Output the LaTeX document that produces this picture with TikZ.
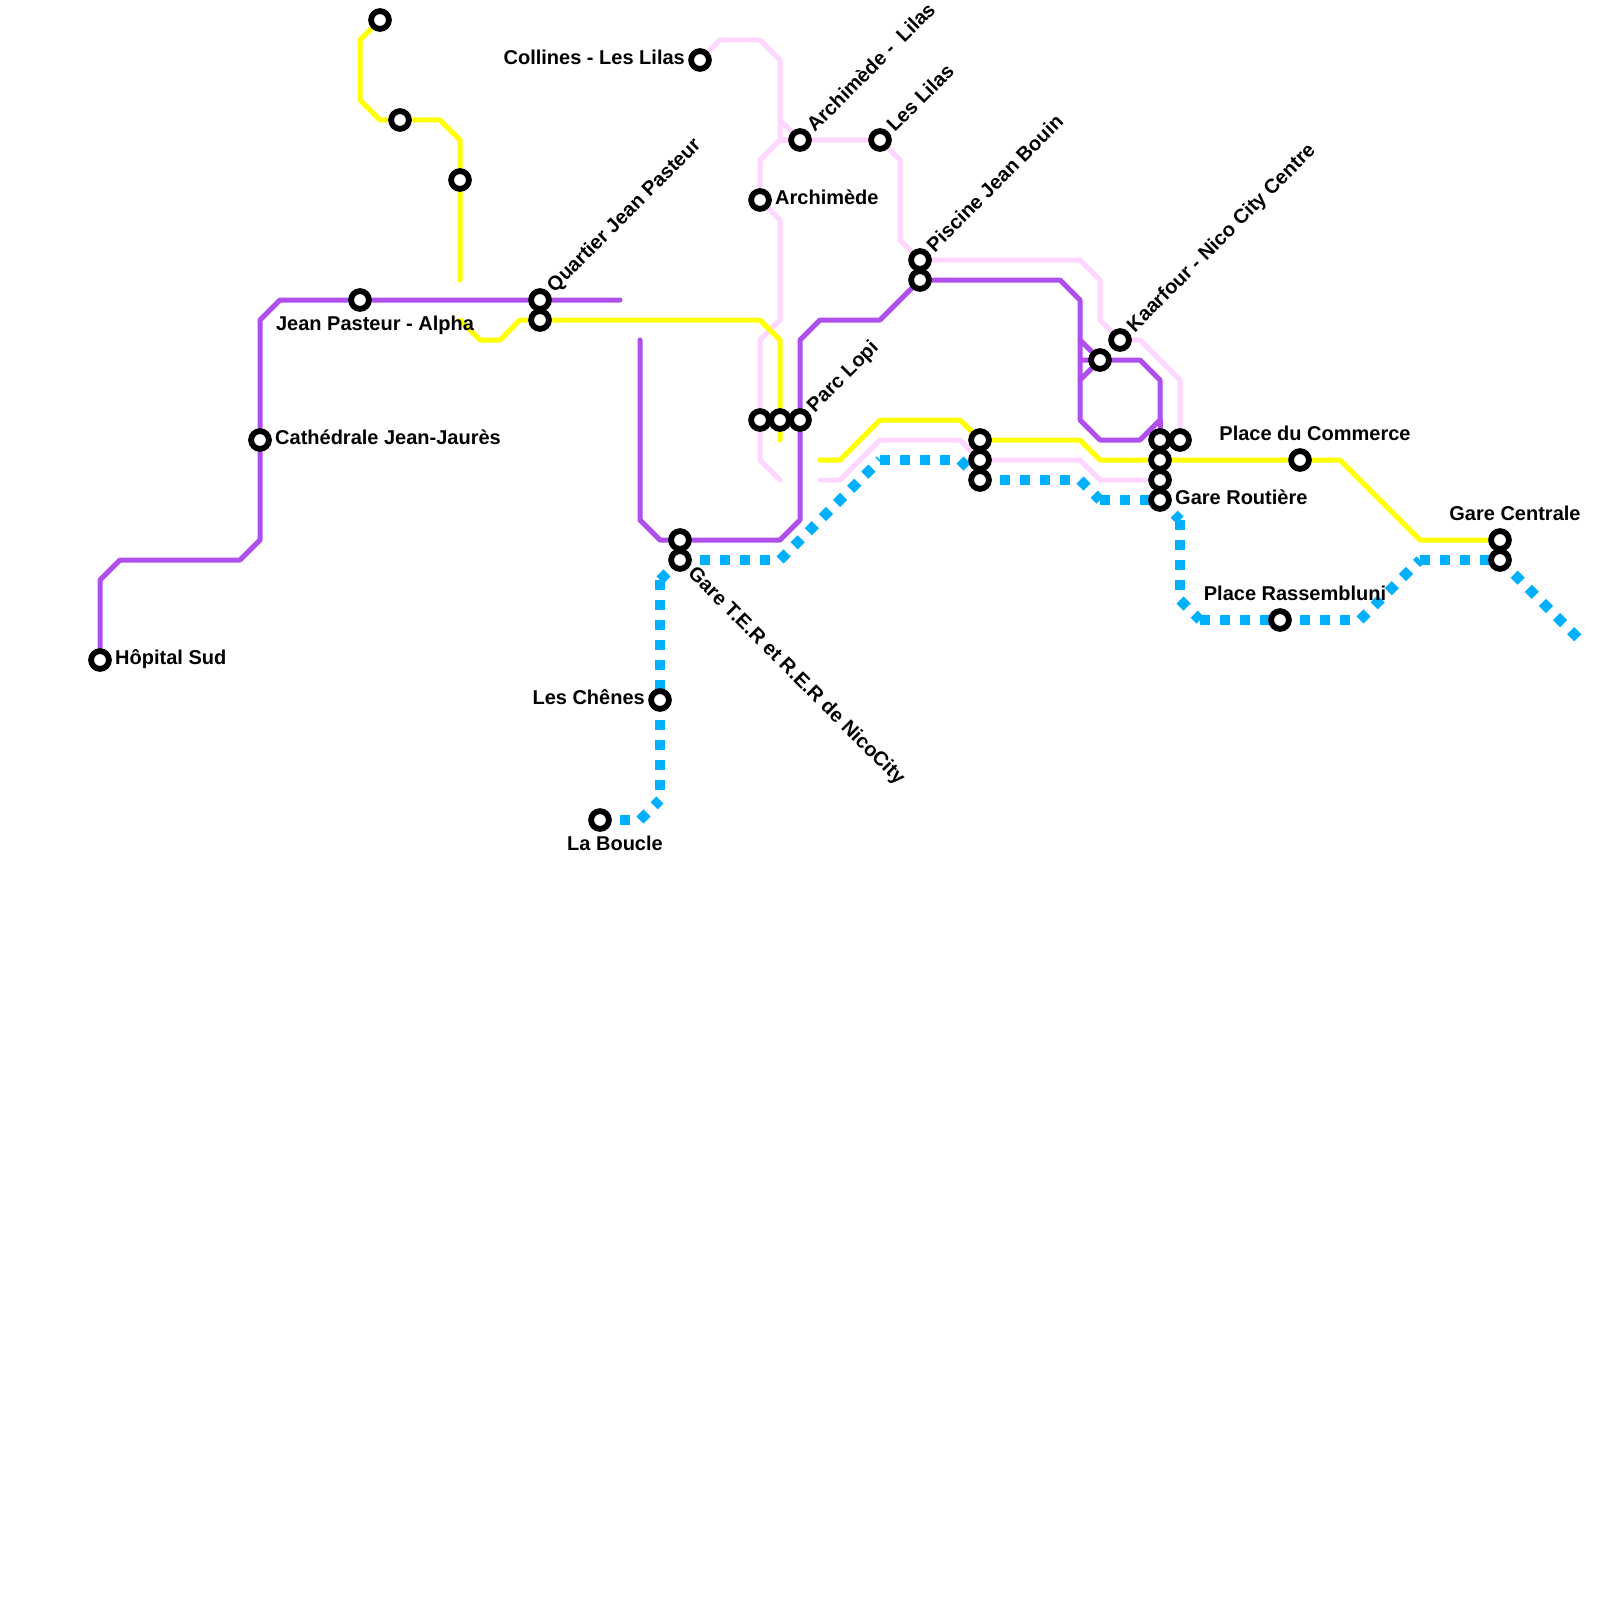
\documentclass[tikz,border=0pt]{standalone}
\usepackage{fontspec}
\setmainfont{Liberation Sans}
\usetikzlibrary{backgrounds, positioning}
\definecolor{metroviolet}{HTML}{AE4FEE}
\definecolor{metrorose}{HTML}{FFD6FF}
\definecolor{metrojaune}{HTML}{FFFF00}
\definecolor{metrobleu}{HTML}{00B0FF}

\begin{document}
\begin{tikzpicture}[
		x=0.5pt, y=-0.5pt,
		node distance=1.5pt,
		station/.style={draw=black, circle, fill=white, line width=2.9pt, minimum size=8.9pt, inner sep=0pt},
		lbl/.style={font=\bfseries\fontsize{10}{12}\selectfont, text height=7.5pt, text depth=2pt, inner sep=0pt},
		lblup/.style={lbl, rotate=45, anchor=west, xshift=7.5pt},
		lbldown/.style={lbl, rotate=-45, anchor=west, xshift=7.5pt},
		ligne/.style={line width=2.5pt, line cap=round, line join=round},
		pointille/.style={metrobleu, line width=5pt, dash pattern=on 5pt off 5pt}
		]
		\useasboundingbox (0,0) rectangle (1600,1600);
		
		% Stations
		\node[station] (sud) at (100,660) {};
		\node[station] (jaures) at (260,440) {};
		\node[station] (alpha) at (360,300) {};
		\node[station] (jauneA) at (380,20) {};
		\node[station] (jauneB) at (400,120) {};
		\node[station] (jauneC) at (460,180) {};
		\node[station] (pasteur) at (540,300) {};
		\node[station] (pasteurB) at (540,320) {};
		\node[station] (collines) at (700,60) {};
		\node[station] (archlilas) at (800,140) {};
		\node[station] (lilas) at (880,140) {};
		\node[station] (archimede) at (760,200) {};
		\node[station] (piscine) at (920,260) {};
		\node[station] (piscineB) at (920,280) {};
		\node[station] (kaarfour) at (1120,340) {};
		\node[station] (kaarfourB) at (1100,360) {};
		\node[station] (lopiA) at (760,420) {};
		\node[station] (lopiB) at (780,420) {};
		\node[station] (lopi) at (800,420) {};
		\node[station] (terA) at (680,540) {};
		\node[station] (ter) at (680,560) {};
		\node[station] (chenes) at (660,700) {};
		\node[station] (boucle) at (600,820) {};
		\node[station] (milieuA) at (980,440) {};
		\node[station] (milieuB) at (980,460) {};
		\node[station] (milieuC) at (980,480) {};
		\node[station] (routiereA) at (1160,440) {};
		\node[station] (routiereB) at (1160,460) {};
		\node[station] (routiereC) at (1160,480) {};
		\node[station] (routiere) at (1160,500) {};
		\node[station] (routiereD) at (1180,440) {};
		\node[station] (commerce) at (1300,460) {};
		\node[station] (centrale) at (1500,540) {};
		\node[station] (centraleB) at (1500,560) {};
		\node[station] (rassembluni) at (1280,620) {};
		
		% Labels
		\node[lbl, right=of sud, yshift=0.3pt] (sudlbl) {Hôpital Sud};
		\node[lbl, right=of jaures, yshift=0.3pt] (jaureslbl) {Cathédrale Jean-Jaurès};
		\node[lbl, below=of alpha, xshift=7.5pt] (alphalbl) {Jean Pasteur - Alpha};
		\node[lbl, left=of collines, yshift=0.3pt] (collineslbl) {Collines - Les Lilas};
		\node[lbl, right=of archimede, yshift=0.3pt] (archimedelbl) {Archimède};
		\node[lbl, left=of chenes, yshift=0.3pt] (cheneslbl) {Les Chênes};
		\node[lbl, below=of boucle, xshift=7.5pt] (bouclelbl) {La Boucle};
		\node[lbl, right=of routiere, yshift=0.3pt] (routierelbl) {Gare Routière};
		\node[lbl, above=of commerce, xshift=7.5pt, yshift=0.3pt] (commercelbl) {Place du Commerce};
		\node[lbl, above=of centrale, xshift=7.5pt, yshift=0.3pt] (centralelbl) {Gare Centrale};
		\node[lbl, above=of rassembluni, xshift=7.5pt, yshift=0.3pt] (rassemblunilbl) {Place Rassembluni};
		\node[lblup] (pasteurlbl) at (pasteur) {Quartier Jean Pasteur};
		\node[lblup] (archlilaslbl) at (archlilas) {Archimède -~ Lilas};
		\node[lblup] (lilaslbl) at (lilas) {Les Lilas};
		\node[lblup] (piscinelbl) at (piscine) {Piscine Jean Bouin};
		\node[lblup] (kaarfourlbl) at (kaarfour) {Kaarfour - Nico City Centre};
		\node[lblup] (lopilbl) at (lopi) {Parc Lopi};
		\node[lbldown] (terlbl) at (ter) {Gare T.E.R et R.E.R de NicoCity};
		
		% Free ends and bends of the blue line
		\coordinate (bA) at (640,820);
		\coordinate (bB) at (660,800);
		\coordinate (bC) at (660,580);
		\coordinate (bD) at (780,560);
		\coordinate (bE) at (880,460);
		\coordinate (bF) at (960,460);
		\coordinate (bG) at (1080,480);
		\coordinate (bH) at (1100,500);
		\coordinate (bI) at (1180,520);
		\coordinate (bJ) at (1180,600);
		\coordinate (bK) at (1200,620);
		\coordinate (bL) at (1360,620);
		\coordinate (bM) at (1420,560);
		\coordinate (bN) at (1580,640);
		
		\begin{scope}[on background layer]
			% Rose
			\draw[ligne, metrorose] (collines) -- (720,40) -- (760,40) -- (780,60) -- (780,140) -- (760,160) -- (archimede) -- (780,220) -- (780,320) -- (760,340) -- (lopiA) -- (760,460) -- (780,480);
			\draw[ligne, metrorose] (780,120) -- (archlilas) -- (lilas) -- (900,160) -- (900,240) -- (piscine) -- (1080,260) -- (1100,280) -- (1100,320) -- (kaarfour) -- (1140,340) -- (1180,380) -- (routiereD);
			\draw[ligne, metrorose] (780,140) -- (archlilas);
			\draw[ligne, metrorose] (820,480) -- (840,480) -- (880,440) -- (960,440) -- (milieuB) -- (1080,460) -- (1100,480) -- (routiereC);
			
			% Violet
			\draw[ligne, metroviolet] (sud) -- (100,580) -- (120,560) -- (240,560) -- (260,540) -- (jaures) -- (260,320) -- (280,300) -- (alpha) -- (pasteur) -- (620,300);
			\draw[ligne, metroviolet] (640,340) -- (640,520) -- (660,540) -- (terA) -- (780,540) -- (800,520) -- (lopi) -- (800,340) -- (820,320) -- (880,320) -- (piscineB) -- (1060,280) -- (1080,300) -- (1080,420) -- (1100,440) -- (1140,440) -- (1160,420) -- (1160,380) -- (1140,360) -- (1080,360);
			\draw[ligne, metroviolet] (1080,340) -- (kaarfourB) -- (1080,380);
			\draw[ligne, metroviolet] (1160,420) -- (routiereA);
			
			% Jaune
			\draw[ligne, metrojaune] (jauneA) -- (360,40) -- (360,100) -- (380,120) -- (jauneB) -- (440,120) -- (460,140) -- (jauneC) -- (460,280);
			\draw[ligne, metrojaune] (460,320) -- (480,340) -- (500,340) -- (520,320) -- (pasteurB) -- (760,320) -- (780,340) -- (lopiB) -- (780,440);
			\draw[ligne, metrojaune] (820,460) -- (840,460) -- (880,420) -- (960,420) -- (milieuA) -- (1080,440) -- (1100,460) -- (routiereB) -- (commerce) -- (1340,460) -- (1420,540) -- (centrale);
			
			% Bleu
			\foreach \from/\to in {boucle/bA, bA/bB, bC/bB, bC/ter, ter/bD, bD/bE, bE/bF, bF/milieuC, milieuC/bG, bG/bH, bH/routiere, routiere/bI, bI/bJ, bJ/bK, bK/bL, bL/bM, bM/centraleB, centraleB/bN}
				\draw[pointille] (\from.center) -- (\to.center);
		\end{scope}
		
	\end{tikzpicture}
\end{document}
